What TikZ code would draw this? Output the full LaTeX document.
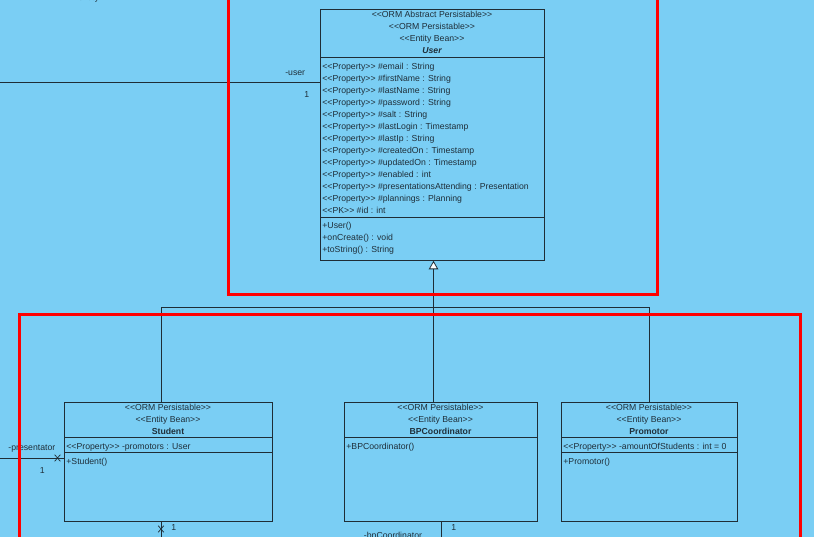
\documentclass[tikz,border=0pt]{standalone}
\usepackage{fontspec}
\setmainfont{Liberation Sans}[Ligatures=TeXOff]
\usetikzlibrary{arrows.meta, positioning, shapes.misc}
\definecolor{cbg}{HTML}{7ACEF4}
\definecolor{cline}{HTML}{1F2D36}
\definecolor{ctext}{HTML}{1F2F3A}
\definecolor{cframe}{HTML}{FF0000}
\tikzset{
  every picture/.style={line width=0.8pt},
  classbox/.style={draw=cline, anchor=north west, inner sep=0pt},
  member/.style={anchor=base west, text=ctext, inner sep=0pt, font=\fontsize{8.7}{12}\selectfont},
  stereo/.style={member, anchor=base},
  cname/.style={stereo, font=\fontsize{8.7}{12}\selectfont\bfseries},
  assoc/.style={draw=cline},
  inherit/.style={draw=cline, -{Triangle[fill=white, length=8.5pt, width=9.5pt]}},
  xmark/.style={draw=cline, cross out, minimum width=5pt, minimum height=6pt, inner sep=0pt, line width=0.7pt},
  frame/.style={draw=cframe, line width=3pt},
}

\begin{document}
\begin{tikzpicture}[x=1pt, y=-1pt]
  \useasboundingbox (0,0) rectangle (814,537);
  \fill[cbg] (0,0) rectangle (814,537);
  \clip (0,0) rectangle (814,537);
  \node[member] (entitylbl) at (78,1) {entity};

  % User
  \node[classbox, minimum width=224pt, minimum height=251pt] (user) at (320,9) {};
  \foreach \txt [count=\i from 0] in {<<ORM Abstract Persistable>>, <<ORM Persistable>>, <<Entity Bean>>}
    \node[stereo] (userst\i) at (432,{18+12*\i}) {\txt};
  \node[cname, font=\fontsize{8.7}{12}\selectfont\bfseries\itshape] (username) at (432,54) {User};
  \draw[cline] (user.west |- 0,57) -- (user.east |- 0,57);
  \foreach \txt [count=\i from 0] in {<<Property>> \#email : String, <<Property>> \#firstName : String,
      <<Property>> \#lastName : String, <<Property>> \#password : String, <<Property>> \#salt : String,
      <<Property>> \#lastLogin : Timestamp, <<Property>> \#lastIp : String, <<Property>> \#createdOn : Timestamp,
      <<Property>> \#updatedOn : Timestamp, <<Property>> \#enabled : int,
      <<Property>> \#presentationsAttending : Presentation, <<Property>> \#plannings : Planning, <<PK>> \#id : int}
    \node[member] (userat\i) at (322,{69.5+12*\i}) {\txt};
  \draw[cline] (user.west |- 0,217) -- (user.east |- 0,217);
  \foreach \txt [count=\i from 0] in {+User(), +onCreate() : void, +toString() : String}
    \node[member] (userop\i) at (322,{228.5+12*\i}) {\txt};

  % Student
  \node[classbox, minimum width=208pt, minimum height=119.5pt] (student) at (64,401.5) {};
  \node[stereo] (studentst0) at (168,410.5) {<<ORM Persistable>>};
  \node[stereo] (studentst1) at (168,422.5) {<<Entity Bean>>};
  \node[cname] (studentname) at (168,434.5) {Student};
  \draw[cline] (student.west |- 0,437.5) -- (student.east |- 0,437.5);
  \node[member] (studentat) at (66,449.5) {<<Property>> -promotors : User};
  \draw[cline] (student.west |- 0,452.5) -- (student.east |- 0,452.5);
  \node[member] (studentop) at (66,464) {+Student()};

  % BPCoordinator
  \node[classbox, minimum width=193pt, minimum height=119.5pt] (bpc) at (344,401.5) {};
  \node[stereo] (bpcst0) at (440.5,410.5) {<<ORM Persistable>>};
  \node[stereo] (bpcst1) at (440.5,422.5) {<<Entity Bean>>};
  \node[cname] (bpcname) at (440.5,434.5) {BPCoordinator};
  \draw[cline] (bpc.west |- 0,437.5) -- (bpc.east |- 0,437.5);
  \node[member] (bpcop) at (346,449.5) {+BPCoordinator()};

  % Promotor
  \node[classbox, minimum width=176pt, minimum height=119.5pt] (promotor) at (561,401.5) {};
  \node[stereo] (promst0) at (649,410.5) {<<ORM Persistable>>};
  \node[stereo] (promst1) at (649,422.5) {<<Entity Bean>>};
  \node[cname] (promname) at (649,434.5) {Promotor};
  \draw[cline] (promotor.west |- 0,437.5) -- (promotor.east |- 0,437.5);
  \node[member] (promat) at (563,449.5) {<<Property>> -amountOfStudents : int = 0};
  \draw[cline] (promotor.west |- 0,452.5) -- (promotor.east |- 0,452.5);
  \node[member] (promop) at (563,464) {+Promotor()};

  % generalisation
  \coordinate (bus) at (433.5,307);
  \draw[assoc] (bpc.north -| bus) -- (bus);
  \draw[assoc] (student.north -| 161,0) |- (bus);
  \draw[assoc] (promotor.north -| 649,0) |- (bus);
  \draw[inherit] (bus) -- (user.south -| bus);

  % associations
  \coordinate (ua) at (0,82);
  \draw[assoc] (ua) -- (ua -| user.west);
  \node[member, anchor=base east] (userrole) at (305.5,76) {-user};
  \node[member] (usermult) at (304,97.5) {1};

  \coordinate (pa) at (0,458);
  \draw[assoc] (pa) -- (pa -| student.west);
  \node[xmark] (px) at (57.5,458) {};
  \node[member] (presrole) at (8,450.5) {-presentator};
  \node[member] (presmult) at (39.5,473) {1};

  \coordinate (sb) at (161,545);
  \draw[assoc] (student.south -| sb) -- (sb);
  \node[xmark] (sx) at (161,529) {};
  \node[member] (sbmult) at (171,530) {1};

  \coordinate (bb) at (441,545);
  \draw[assoc] (bpc.south -| bb) -- (bb);
  \node[member] (bbmult) at (451,530) {1};
  \node[stereo] (bbrole) at (393,538.5) {-bpCoordinator};

  % frames
  \draw[frame] (228,-10) rectangle (657,295);
  \draw[frame] (19,315) rectangle (800,560);
\end{tikzpicture}
\end{document}
